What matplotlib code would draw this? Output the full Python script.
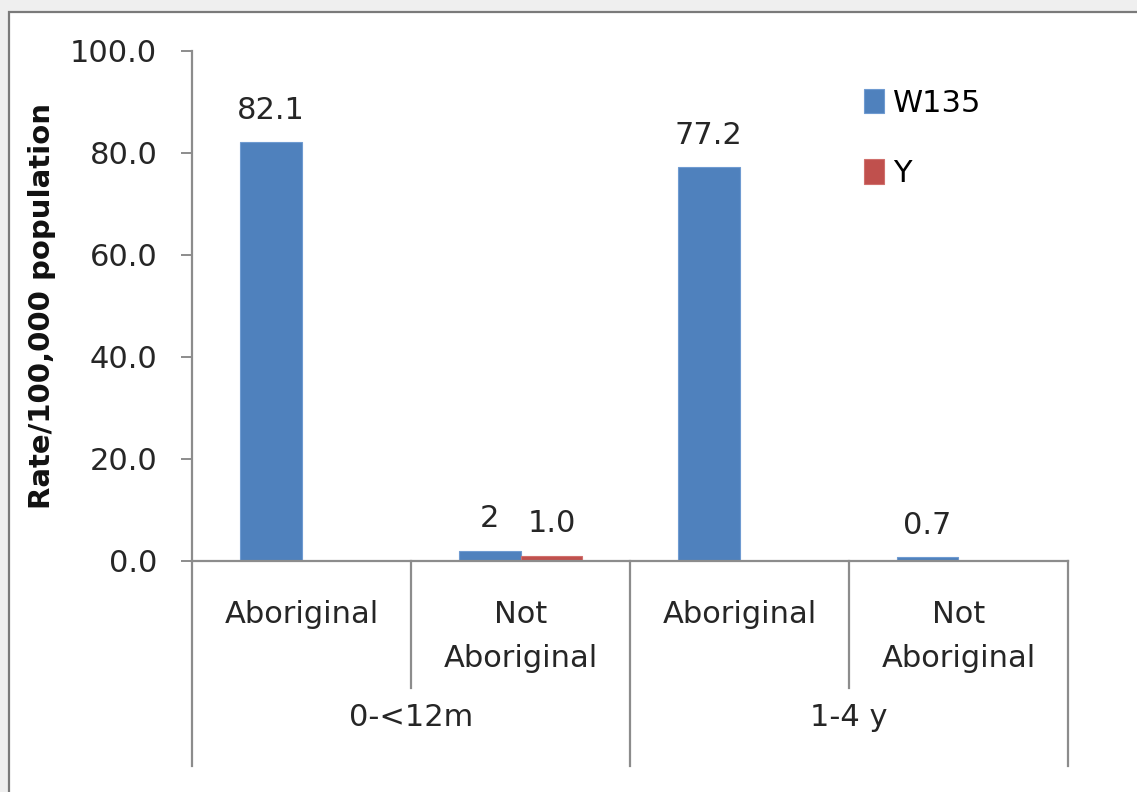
import matplotlib.pyplot as plt
from matplotlib.patches import Rectangle
import numpy as np

# rates per 100,000 by age group and Aboriginal status
groups = ["0-<12m", "1-4 y"]
subcats = ["Aboriginal", "Not\nAboriginal", "Aboriginal", "Not\nAboriginal"]
w135 = [82.1, 2.0, 77.2, 0.7]
w135_labels = ["82.1", "2", "77.2", "0.7"]
y_vals = [np.nan, 1.0, np.nan, np.nan]
y_labels = ["", "1.0", "", ""]
yticks = [0, 20, 40, 60, 80, 100]

blue = "#4F81BD"
red = "#C0504D"
grey = "#8c8c8c"
txt = "#262626"
fs = 22

plt.rcParams["font.family"] = ["DejaVu Sans"]

fig = plt.figure(figsize=(11.37, 7.92), dpi=100, facecolor="#efefef")
# white chart panel with a thin grey frame
panel = Rectangle((9 / 1137, -0.05), 1.1, (792 - 12) / 792 + 0.05,
                  transform=fig.transFigure, facecolor="white",
                  edgecolor="#7a7a7a", linewidth=1.6, zorder=-10)
fig.add_artist(panel)

ax = fig.add_axes([192 / 1137, (792 - 561) / 792, 876 / 1137, 510 / 792])
ax.set_facecolor("none")

x = np.arange(len(subcats))
bw = 0.283
b1 = ax.bar(x - bw / 2, w135, bw, color=blue, edgecolor="#6f9bd1", linewidth=0.8, label="W135")
b2 = ax.bar(x + bw / 2, y_vals, bw, color=red, edgecolor="#d0706d", linewidth=0.8, label="Y")

for rects, labs in [(b1, w135_labels), (b2, y_labels)]:
    for r, lab in zip(rects, labs):
        if lab:
            ax.annotate(lab, (r.get_x() + r.get_width() / 2, r.get_height()),
                        xytext=(0, 17), textcoords="offset points",
                        ha="center", va="baseline", fontsize=fs, color=txt)

ax.set_xlim(-0.5, len(subcats) - 0.5)
ax.set_ylim(0, 100)
ax.set_yticks(yticks)
ax.set_yticklabels([f"{t:.1f}" for t in yticks], fontsize=fs, color=txt)
ax.tick_params(axis="y", direction="out", length=8, width=1.4, color=grey, pad=17)
ax.set_xticks([])
for s in ["top", "right"]:
    ax.spines[s].set_visible(False)
for s in ["left", "bottom"]:
    ax.spines[s].set_color(grey)
    ax.spines[s].set_linewidth(1.6)

ax.set_ylabel("Rate/100,000 population", fontsize=21, fontweight="bold", color="#111111")
ax.yaxis.set_label_coords(-0.155, 0.5)

# two-level category axis drawn underneath
tr = ax.get_xaxis_transform()
inner = -127 / 510
outer = -205 / 510
for b in [-0.5, 1.5, 3.5]:
    ax.plot([b, b], [0, outer], transform=tr, color=grey, lw=1.6, clip_on=False)
for b in [0.5, 2.5]:
    ax.plot([b, b], [0, inner], transform=tr, color=grey, lw=1.6, clip_on=False)

for xi, lab in zip(x, subcats):
    ax.text(xi, -39 / 510, lab, transform=tr, ha="center", va="top",
            fontsize=fs, color=txt, linespacing=1.65)
for gi, g in enumerate(groups):
    ax.text(2 * gi + 0.5, -157 / 510, g, transform=tr, ha="center", va="center",
            fontsize=fs, color=txt)

ax.legend(loc="upper left", bbox_to_anchor=(0.753, 0.95), frameon=False,
          fontsize=fs, handlelength=0.65, handleheight=0.85, handletextpad=0.3,
          labelspacing=1.35, borderaxespad=0)

fig.savefig("out.png", dpi=100, facecolor=fig.get_facecolor())
